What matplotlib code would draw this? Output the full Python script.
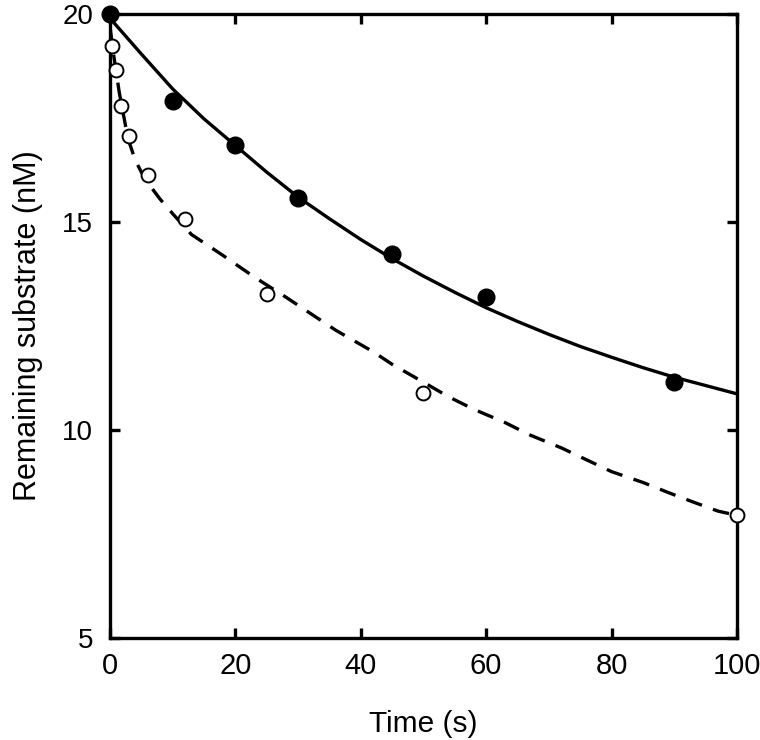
import matplotlib
matplotlib.use("Agg")
import matplotlib.pyplot as plt

# Measured data (filled = solid fit, open = dashed fit)
t_filled = [0, 10, 20, 30, 45, 60, 90]
y_filled = [20.0, 17.9, 16.85, 15.57, 14.22, 13.2, 11.15]

t_open = [0.3, 1, 1.75, 3, 6, 12, 25, 50, 100]
y_open = [19.23, 18.65, 17.8, 17.07, 16.13, 15.07, 13.27, 10.89, 7.96]

# Fit curves
t_fit_solid = [0, 5, 10, 15, 20, 25, 30, 35, 40, 45, 50, 55, 60, 65, 70, 75, 80, 85, 90, 95, 100]
y_fit_solid = [19.9, 19.04, 18.2, 17.48, 16.84, 16.2, 15.6, 15.08, 14.58, 14.12, 13.7, 13.31,
               12.94, 12.61, 12.3, 12.01, 11.75, 11.5, 11.27, 11.07, 10.87]

t_fit_dash = [0, 0.5, 1, 1.5, 2, 2.5, 3, 4, 5, 6, 8, 10, 13, 18, 23, 28, 32, 36, 42, 45, 50,
              54, 58, 63, 67, 72, 80, 85, 89, 93, 97, 100]
y_fit_dash = [19.7, 19.1, 18.6, 18.1, 17.7, 17.3, 16.95, 16.5, 16.2, 15.95, 15.55, 15.2, 14.7,
              14.2, 13.68, 13.2, 12.8, 12.4, 11.88, 11.58, 11.15, 10.8, 10.5, 10.18, 9.88, 9.57,
              9.0, 8.74, 8.5, 8.27, 8.05, 7.95]

x_ticks = [0, 20, 40, 60, 80, 100]
y_ticks = [5, 10, 15, 20]

fig = plt.figure(figsize=(7.6, 7.4), dpi=100)
ax = fig.add_axes([0.1447, 0.1378, 0.825, 0.8432])

ax.plot(t_fit_solid, y_fit_solid, color="black", lw=2.4, solid_capstyle="butt")
ax.plot(t_fit_dash, y_fit_dash, color="black", lw=2.4, linestyle=(0, (5, 3.5)))
ax.plot(t_filled, y_filled, "o", ms=12, color="black", clip_on=False, zorder=5)
ax.plot(t_open, y_open, "o", ms=10, mfc="white", mec="black", mew=1.4, clip_on=False, zorder=5)

ax.set_xlim(0, 100)
ax.set_ylim(5, 20)
ax.set_xticks(x_ticks)
ax.set_yticks(y_ticks)

for s in ax.spines.values():
    s.set_linewidth(2.4)

ax.tick_params(direction="in", length=7, width=2.4, top=True, right=True)
ax.tick_params(axis="x", pad=10)
ax.tick_params(axis="y", pad=12)

fam = ["Liberation Sans", "DejaVu Sans"]
for lab in ax.get_xticklabels():
    lab.set_family(fam)
    lab.set_fontsize(21)
for lab in ax.get_yticklabels():
    lab.set_family(fam)
    lab.set_fontsize(20)

ax.set_xlabel("Time (s)", family=fam, fontsize=21.5, labelpad=22)
ax.set_ylabel("Remaining substrate (nM)", family=fam, fontsize=22, labelpad=14)

fig.savefig("out.png", dpi=100)
